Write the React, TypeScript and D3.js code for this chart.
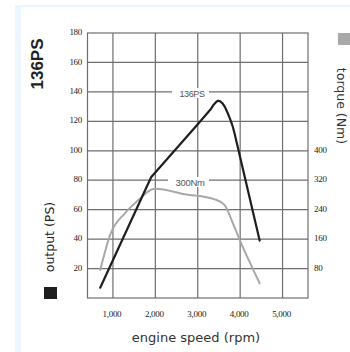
import React from "react";
import * as d3 from "d3";

const psTicks = [20, 40, 60, 80, 100, 120, 140, 160, 180];
const nmTicks = [80, 160, 240, 320, 400];
const rpmTicks = [1000, 2000, 3000, 4000, 5000];
const rpmTickLabels = ["1,000", "2,000", "3,000", "4,000", "5,000"];

const powerRpm = [700, 1900, 3000, 3300, 3380, 3440, 3480, 3530, 3580, 3640, 3700, 3750, 3790, 3830, 3870, 4460];
const powerPS = [7, 82, 118, 128, 131.5, 133.3, 134, 133.6, 132.3, 129.8, 126, 122.5, 119.5, 116, 111.5, 39];

const torqueRpm = [700, 950, 1280, 1600, 1900, 2000, 2700, 3400, 3630, 3830, 3990, 4460];
const torqueNm = [76, 176, 230, 266, 294, 297, 282, 268, 253, 203, 158, 40];

const W = 350;
const H = 352;

export default function App() {
  const x = d3.scaleLinear().domain([400, 5600]).range([87.5, 308]);
  const y = d3.scaleLinear().domain([0, 180]).range([298, 33]);
  const yNm = d3.scaleLinear().domain([0, 720]).range([298, 33]);

  const powerLine = d3
    .line<number>()
    .x((_, i) => x(powerRpm[i]))
    .y((d) => y(d))
    .curve(d3.curveLinear);
  const torqueLine = d3
    .line<number>()
    .x((_, i) => x(torqueRpm[i]))
    .y((d) => yNm(d))
    .curve(d3.curveMonotoneX);

  const gridColor = "#6e6e6e";
  const tickFont = "Liberation Serif, DejaVu Serif, serif";
  const sans = "DejaVu Sans, Verdana, sans-serif";

  return (
    <svg
      width={W}
      height={H}
      style={{ position: "absolute", left: 0, top: 0, background: "#fff" }}
    >
      {/* pale frame */}
      <rect x={15} y={5} width={340} height={360} fill="#eef6fd" />
      <rect x={21} y={7} width={340} height={360} fill="#ffffff" />

      {/* grid */}
      {psTicks.slice(0, -1).map((t) => (
        <line key={"h" + t} x1={x.range()[0]} x2={x.range()[1]} y1={y(t)} y2={y(t)} stroke={gridColor} strokeWidth={1.2} />
      ))}
      {rpmTicks.map((t) => (
        <line key={"v" + t} x1={x(t)} x2={x(t)} y1={y(0)} y2={y(180)} stroke={gridColor} strokeWidth={1.2} />
      ))}
      <rect
        x={x.range()[0]}
        y={y(180)}
        width={x.range()[1] - x.range()[0]}
        height={y(0) - y(180)}
        fill="none"
        stroke={gridColor}
        strokeWidth={1.2}
      />

      {/* label backgrounds */}
      <rect x={172} y={88} width={37} height={10} fill="#fff" />
      <rect x={168} y={177} width={41} height={10} fill="#fff" />

      {/* lines */}
      <path d={torqueLine(torqueNm) || ""} fill="none" stroke="#a8a8a8" strokeWidth={2} strokeLinejoin="round" strokeLinecap="round" />
      <path d={powerLine(powerPS) || ""} fill="none" stroke="#1e1e1e" strokeWidth={2.2} strokeLinejoin="round" strokeLinecap="round" />

      {/* in-chart labels */}
      <text x={192} y={95} fontSize={9} fontFamily="Liberation Sans, sans-serif" textAnchor="middle" dominantBaseline="middle" fill="#555" letterSpacing={-0.4}>
        136PS
      </text>
      <text x={190} y={183} fontSize={9.5} fontFamily="Liberation Sans, sans-serif" textAnchor="middle" dominantBaseline="middle" fill="#555" letterSpacing={-0.3}>
        300Nm
      </text>

      {/* left ticks */}
      {psTicks.map((t) => (
        <text key={"lt" + t} x={82} y={y(t)} fontSize={9} fontFamily={tickFont} textAnchor="end" dominantBaseline="middle" fill="#222" letterSpacing={-0.3}>
          {t}
        </text>
      ))}
      {/* right ticks */}
      {nmTicks.map((t) => (
        <text key={"rt" + t} x={314} y={yNm(t)} fontSize={9} fontFamily={tickFont} textAnchor="start" dominantBaseline="middle" fill="#222" letterSpacing={-0.3}>
          {t}
        </text>
      ))}
      {/* x ticks */}
      {rpmTicks.map((t, i) => (
        <text key={"xt" + t} x={x(t) - 1} y={315} fontSize={9} fontFamily={tickFont} textAnchor="middle" dominantBaseline="middle" fill="#222" letterSpacing={-0.3}>
          {rpmTickLabels[i]}
        </text>
      ))}

      {/* axis titles */}
      <text x={196} y={338} fontSize={13} fontFamily={sans} textAnchor="middle" dominantBaseline="middle" fill="#333">
        engine speed (rpm)
      </text>
      <text transform="translate(54,237) rotate(-90)" fontSize={12.5} fontFamily={sans} textAnchor="middle" fill="#222">
        output (PS)
      </text>
      <rect x={44} y={287} width={13} height={12} fill="#1e1e1e" />
      <text transform="translate(43,64) rotate(-90)" fontSize={17} fontWeight="bold" fontFamily="Liberation Sans, Arial, sans-serif" textAnchor="middle" fill="#222">
        136PS
      </text>

      {/* right title */}
      <rect x={338} y={33} width={12} height={12} fill="#a8a8a8" />
      <text transform="translate(337,106) rotate(90)" fontSize={12.5} fontFamily={sans} textAnchor="middle" fill="#333">
        torque (Nm)
      </text>
    </svg>
  );
}
